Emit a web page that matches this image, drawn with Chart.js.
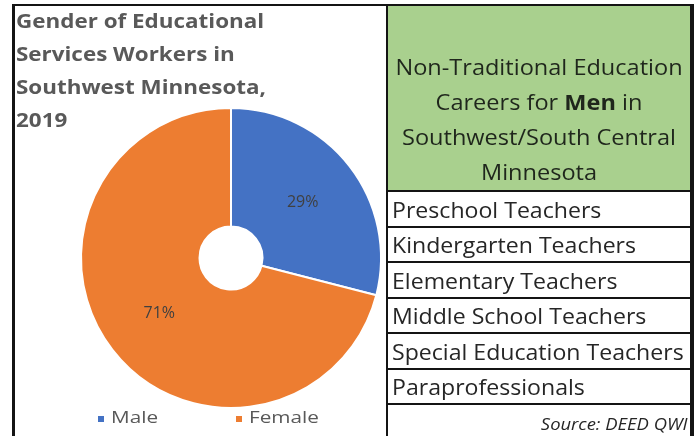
<!DOCTYPE html>
<html>
<head>
<meta charset="utf-8">
<script src="https://cdn.jsdelivr.net/npm/chart.js@4.4.0/dist/chart.umd.min.js"></script>
<style>
  body { margin: 0; width: 698px; height: 436px; background: #fff; position: relative; overflow: hidden; font-family: "Open Sans", Lato, sans-serif; }
  .line { position: absolute; background: #141414; }
  #pieBox { position: absolute; left: 15px; top: 6px; width: 371px; height: 430px; }
  #title { position: absolute; left: 16px; top: 5px; font-weight: bold; font-size: 19px; line-height: 33px; color: #595959;
           transform: scaleX(1.18); transform-origin: 0 0; white-space: nowrap; }
  .legItem { position: absolute; top: 405px; font-size: 17px; color: #595959; white-space: nowrap; }
  .legItem .box { position: absolute; left: 0; top: 11px; width: 6px; height: 6px; }
  .legItem .txt { position: absolute; left: 13px; top: 0; transform: scaleX(1.22); transform-origin: 0 0; }
  #head { position: absolute; left: 388px; top: 6px; width: 302px; height: 184px; background: #a9d08e; }
  #headText { position: absolute; left: 0; right: 0; top: 43px; text-align: center; font-size: 22px; line-height: 35px; color: #1f261c;
              transform: scaleX(1.07); transform-origin: 50% 0; white-space: nowrap; }
  .row { position: absolute; left: 392px; font-size: 22px; color: #262626; line-height: 34px; white-space: nowrap;
         transform: scaleX(1.05); transform-origin: 0 0; }
  #source { position: absolute; right: 10px; top: 413px; font-style: italic; font-size: 16px; color: #262626;
            transform: scaleX(1.15); transform-origin: 100% 0; }
</style>
</head>
<body>
<div id="pieBox"><canvas id="genderPie"></canvas></div>
<div id="title">Gender of Educational<br>Services Workers in<br>Southwest Minnesota,<br>2019</div>
<div id="legend"></div>

<div id="head"><div id="headText">Non-Traditional Education<br>Careers for <b>Men</b> in<br>Southwest/South Central<br>Minnesota</div></div>
<div id="rows"></div>
<div id="source">Source: DEED QWI</div>

<!-- frame and grid lines -->
<div class="line" style="left:12px;top:4px;width:3px;height:432px"></div>
<div class="line" style="left:12px;top:4px;width:682px;height:2px"></div>
<div class="line" style="left:386px;top:4px;width:2px;height:432px"></div>
<div class="line" style="left:690px;top:4px;width:4px;height:432px"></div>

<script>
var genders = ['Male', 'Female'];
var shares = [29, 71];
var sliceColors = ['#4472c4', '#ed7d31'];
var careers = ['Preschool Teachers', 'Kindergarten Teachers', 'Elementary Teachers',
               'Middle School Teachers', 'Special Education Teachers', 'Paraprofessionals'];

// percent labels in the middle of each ring slice
var sliceLabels = {
    id: 'sliceLabels',
    afterDatasetsDraw: function (chart) {
        var ctx = chart.ctx;
        var meta = chart.getDatasetMeta(0);
        ctx.save();
        ctx.font = '16px "Open Sans", sans-serif';
        ctx.fillStyle = '#404040';
        ctx.textAlign = 'center';
        ctx.textBaseline = 'middle';
        meta.data.forEach(function (arc, i) {
            var p = arc.getCenterPoint();
            ctx.fillText(chart.data.datasets[0].data[i] + '%', p.x, p.y);
        });
        ctx.restore();
    }
};

var ctx = document.getElementById('genderPie').getContext('2d');
var chartGender = new Chart(ctx, {
    type: 'doughnut',
    data: {
        labels: genders,
        datasets: [{
            data: shares,
            backgroundColor: sliceColors,
            borderColor: '#ffffff',
            borderWidth: 2
        }]
    },
    options: {
        responsive: true,
        maintainAspectRatio: false,
        animation: false,
        cutout: '21%',
        layout: { padding: { top: 101, bottom: 27, left: 61, right: 0 } },
        plugins: {
            legend: { display: false },
            tooltip: { enabled: false }
        }
    },
    plugins: [sliceLabels]
});

// legend built from the chart's own legend items
var legendBox = document.getElementById('legend');
var legendLeft = [98, 236];
Chart.overrides.doughnut.plugins.legend.labels.generateLabels(chartGender).forEach(function (item, i) {
    var el = document.createElement('div');
    el.className = 'legItem';
    el.style.left = legendLeft[i] + 'px';
    el.innerHTML = '<span class="box" style="background:' + item.fillStyle + '"></span><span class="txt">' + item.text + '</span>';
    legendBox.appendChild(el);
});

// career rows
var rowsBox = document.getElementById('rows');
careers.forEach(function (name, i) {
    var top = 191 + i * 35.5;
    var r = document.createElement('div');
    r.className = 'row';
    r.style.top = (top + 0.5) + 'px';
    r.textContent = name;
    rowsBox.appendChild(r);
    var l = document.createElement('div');
    l.className = 'line';
    l.style.cssText = 'left:386px;width:306px;height:2px;top:' + (top - 1) + 'px';
    rowsBox.appendChild(l);
});
var last = document.createElement('div');
last.className = 'line';
last.style.cssText = 'left:386px;width:306px;height:2px;top:' + (191 + 6 * 35.5 - 1) + 'px';
rowsBox.appendChild(last);
</script>
</body>
</html>
